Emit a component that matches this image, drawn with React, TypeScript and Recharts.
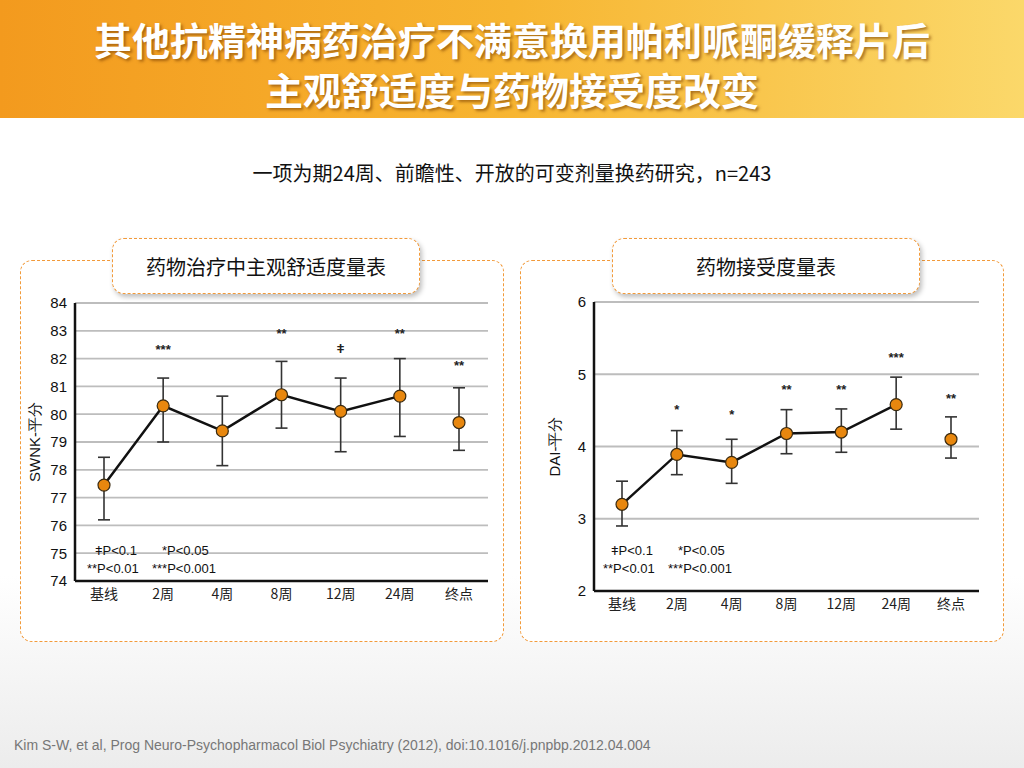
import React from "react";
import { LineChart, Line, XAxis, YAxis, CartesianGrid, ErrorBar, LabelList, Label } from "recharts";

const categories = ["基线", "2周", "4周", "8周", "12周", "24周", "终点"];

const swnkMean = [77.45, 80.3, 79.4, 80.7, 80.1, 80.65, 79.7];
const swnkLow = [76.2, 79.0, 78.15, 79.5, 78.65, 79.2, 78.7];
const swnkHigh = [78.45, 81.3, 80.65, 81.9, 81.3, 82.0, 80.95];
const swnkSig = ["", "***", "", "**", "ǂ", "**", "**"];
const swnkSigY = [null, 82.15, null, 82.75, 82.2, 82.75, 81.6];
const swnkTicks = [74, 75, 76, 77, 78, 79, 80, 81, 82, 83, 84];

const daiMean = [3.2, 3.89, 3.78, 4.18, 4.2, 4.58, 4.1];
const daiLow = [2.9, 3.61, 3.49, 3.9, 3.92, 4.24, 3.84];
const daiHigh = [3.52, 4.22, 4.1, 4.51, 4.52, 4.96, 4.41];
const daiSig = ["", "*", "*", "**", "**", "***", "**"];
const daiSigY = [null, 4.45, 4.38, 4.72, 4.72, 5.17, 4.6];
const daiTicks = [2, 3, 4, 5, 6];

const FONT = "'Liberation Sans', Arial, sans-serif";
const CJK = "'Noto Sans CJK SC', sans-serif";

function build(mean: number[], low: number[], high: number[], sig: string[], sigY: (number | null)[]) {
  return categories.map((c, i) => {
    const last = i === categories.length - 1;
    return {
      name: c,
      main: last ? null : mean[i],
      end: last ? mean[i] : null,
      err: [mean[i] - low[i], high[i] - mean[i]],
      sigY: sigY[i],
      sig: sig[i],
    };
  });
}

const dot = { r: 6, fill: "#e8870e", stroke: "#3a2a10", strokeWidth: 1.2 };

function SigLabel(props: any) {
  const { x, y, value } = props;
  if (!value) return null;
  return (
    <text x={x} y={y} textAnchor="middle" fontSize={13} fontWeight="bold" fill="#222" fontFamily={FONT}>
      {value}
    </text>
  );
}

function Chart(p: {
  data: any[]; width: number; height: number; yWidth: number; domain: [number, number]; ticks: number[];
  label: string; margin: any; pad: number;
}) {
  return (
    <LineChart width={p.width} height={p.height} data={p.data} margin={p.margin}>
      <CartesianGrid vertical={false} stroke="#bdbdbd" strokeWidth={1.8} />
      <XAxis dataKey="name" tickLine={false} axisLine={{ stroke: "#111", strokeWidth: 2.5 }} height={30}
        padding={{ left: p.pad, right: p.pad }}
        tick={{ fontSize: 14, fill: "#222", fontFamily: CJK }} interval={0} />
      <YAxis domain={p.domain} ticks={p.ticks} width={p.yWidth} tickLine={false}
        axisLine={{ stroke: "#111", strokeWidth: 2.5 }} tick={{ fontSize: 15, fill: "#111", fontFamily: FONT }}>
        <Label value={p.label} angle={-90} position="insideLeft" offset={15}
          style={{ fontSize: 15, fill: "#111", fontFamily: FONT, textAnchor: "middle" }} />
      </YAxis>
      <Line dataKey="sigY" stroke="none" dot={false} isAnimationActive={false} connectNulls={false}>
        <LabelList dataKey="sig" content={<SigLabel />} />
      </Line>
      <Line dataKey="main" stroke="#111" strokeWidth={2.5} dot={dot} isAnimationActive={false}>
        <ErrorBar dataKey="err" width={6} stroke="#333" strokeWidth={1.6} />
      </Line>
      <Line dataKey="end" stroke="none" dot={dot} isAnimationActive={false}>
        <ErrorBar dataKey="err" width={6} stroke="#333" strokeWidth={1.6} />
      </Line>
    </LineChart>
  );
}

function Panel({ left, title, pillLeft }: { left: number; title: string; pillLeft: number }) {
  return (
    <>
      <div style={{ position: "absolute", left, top: 260, width: 484, height: 382, background: "#fff",
        border: "1.5px dashed #f29a3a", borderRadius: 12, boxSizing: "border-box" }} />
      <div style={{ position: "absolute", left: pillLeft, top: 238, width: 308, height: 56, background: "#fff",
        border: "1.5px dashed #f29a3a", borderRadius: 12, boxSizing: "border-box",
        boxShadow: "2px 3px 5px rgba(0,0,0,0.25)", display: "flex", alignItems: "center", justifyContent: "center",
        fontFamily: CJK, fontSize: 20, color: "#111" }}>{title}</div>
    </>
  );
}

function PNote({ left, top }: { left: number; top: number }) {
  const s: React.CSSProperties = { position: "absolute", fontFamily: FONT, fontSize: 13, color: "#111", whiteSpace: "pre" };
  return (
    <>
      <div style={{ ...s, left: left + 8, top }}>{"ǂP<0.1"}</div>
      <div style={{ ...s, left: left + 75, top }}>{"*P<0.05"}</div>
      <div style={{ ...s, left, top: top + 18 }}>{"**P<0.01"}</div>
      <div style={{ ...s, left: left + 65, top: top + 18 }}>{"***P<0.001"}</div>
    </>
  );
}

export default function App() {
  const swnk = build(swnkMean, swnkLow, swnkHigh, swnkSig, swnkSigY);
  const dai = build(daiMean, daiLow, daiHigh, daiSig, daiSigY);
  return (
    <div style={{ position: "absolute", left: 0, top: 0, width: 1024, height: 768, overflow: "hidden",
      background: "linear-gradient(#ffffff 0%, #ffffff 75%, #ececec 100%)" }}>
      <div style={{ position: "absolute", left: 0, top: 0, width: 1024, height: 118,
        background: "linear-gradient(90deg, #f39a1e 0%, #f7b531 50%, #fbd86a 100%)" }} />
      <div style={{ position: "absolute", left: 0, top: 14, width: 1024, textAlign: "center", color: "#fff",
        fontFamily: CJK, fontWeight: "bold", fontSize: 38, lineHeight: "50px",
        textShadow: "2px 2px 3px rgba(120,60,0,0.6)" }}>
        其他抗精神病药治疗不满意换用帕利哌酮缓释片后<br />主观舒适度与药物接受度改变
      </div>
      <div style={{ position: "absolute", left: 0, top: 158, width: 1024, textAlign: "center", fontFamily: CJK,
        fontSize: 20, color: "#111" }}>一项为期24周、前瞻性、开放的可变剂量换药研究，n=243</div>

      <Panel left={20} pillLeft={112} title="药物治疗中主观舒适度量表" />
      <Panel left={520} pillLeft={612} title="药物接受度量表" />

      <div style={{ position: "absolute", left: 20, top: 290 }}>
        <Chart data={swnk} width={480} height={330} yWidth={55} domain={[74, 84]} ticks={swnkTicks} pad={29}
          label="SWNK-平分" margin={{ top: 13, right: 12, left: 0, bottom: 9 }} />
      </div>
      <div style={{ position: "absolute", left: 540, top: 290 }}>
        <Chart data={dai} width={449} height={331} yWidth={54} domain={[2, 6]} ticks={daiTicks} pad={28}
          label="DAI-平分" margin={{ top: 12, right: 10, left: 0, bottom: 0 }} />
      </div>
      <PNote left={87} top={543} />
      <PNote left={603} top={543} />

      <div style={{ position: "absolute", left: 14, top: 737, fontFamily: FONT, fontSize: 14, color: "#777" }}>
        Kim S-W, et al, Prog Neuro-Psychopharmacol  Biol Psychiatry  (2012), doi:10.1016/j.pnpbp.2012.04.004
      </div>
    </div>
  );
}
